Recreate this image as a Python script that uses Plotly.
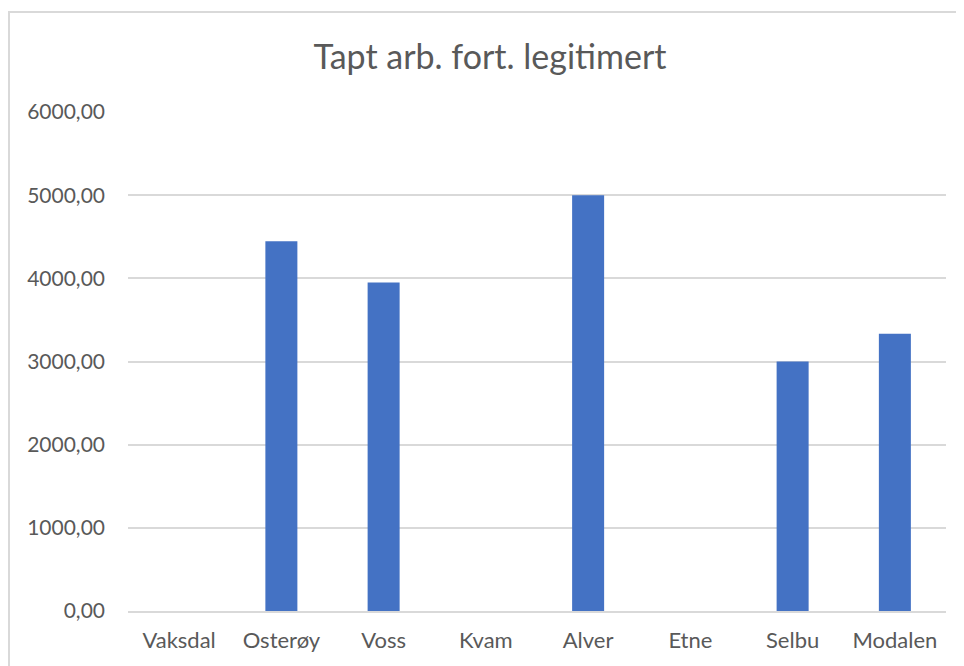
import plotly.graph_objects as go

# Data
kommuner = ["Vaksdal", "Osterøy", "Voss", "Kvam", "Alver", "Etne", "Selbu", "Modalen"]
tapt_arb = [0, 4444.44, 3950.0, 0, 5000.0, 0, 3000.0, 3333.33]
y_ticks = [0, 1000, 2000, 3000, 4000, 5000, 6000]
y_tick_labels = ["0,00", "1000,00", "2000,00", "3000,00", "4000,00", "5000,00", "6000,00"]

FONT = "Lato, 'Open Sans', sans-serif"
TEXT_GREY = "#595959"
GRID_GREY = "#d9d9d9"
BAR_BLUE = "#4472c4"

# the page puts the figure 8px in from the top-left corner
OFF = 8
W, H = 964, 666
PLOT_L, PLOT_R, PLOT_T, PLOT_B = 128 - OFF, 946 - OFF, 112 - OFF, 611 - OFF
PW, PH = PLOT_R - PLOT_L, PLOT_B - PLOT_T

fig = go.Figure(
    go.Bar(
        x=kommuner,
        y=tapt_arb,
        marker=dict(color=BAR_BLUE, line=dict(width=0)),
        hovertemplate="%{x}: %{y:.2f}<extra></extra>",
    )
)

fig.update_layout(
    width=W,
    height=H,
    title=dict(
        text="Tapt arb. fort. legitimert",
        x=0.5,
        xanchor="center",
        xref="container",
        y=1 - (57 - OFF) / H,
        yref="container",
        yanchor="middle",
        font=dict(family=FONT, size=34, color=TEXT_GREY),
    ),
    font=dict(family=FONT, size=21, color=TEXT_GREY),
    paper_bgcolor="white",
    plot_bgcolor="white",
    margin=dict(l=PLOT_L, r=W - PLOT_R, t=PLOT_T, b=H - PLOT_B),
    bargap=0.687,
    showlegend=False,
    shapes=[
        # light chart-area border, cut off on the right and bottom like the screenshot
        dict(
            type="rect",
            xref="paper",
            yref="paper",
            x0=(9 - OFF - PLOT_L) / PW,
            x1=(W + 30 - PLOT_L) / PW,
            y0=(PLOT_B - H - 30) / PH,
            y1=(PLOT_B - (12 - OFF)) / PH,
            line=dict(color=GRID_GREY, width=2),
            fillcolor="rgba(0,0,0,0)",
            layer="below",
        )
    ],
)

fig.update_xaxes(
    type="category",
    showgrid=False,
    showline=True,
    linecolor=GRID_GREY,
    linewidth=1.5,
    ticks="",
    ticklabelstandoff=9,
    tickfont=dict(family=FONT, size=22, color=TEXT_GREY),
)
fig.update_yaxes(
    range=[0, 6000],
    tickvals=y_ticks,
    ticktext=y_tick_labels,
    showgrid=True,
    gridcolor=GRID_GREY,
    gridwidth=1.5,
    zeroline=False,
    showline=False,
    ticks="",
    ticklabelstandoff=22,
    tickfont=dict(family=FONT, size=21, color=TEXT_GREY),
)

fig.write_html("out.html")
